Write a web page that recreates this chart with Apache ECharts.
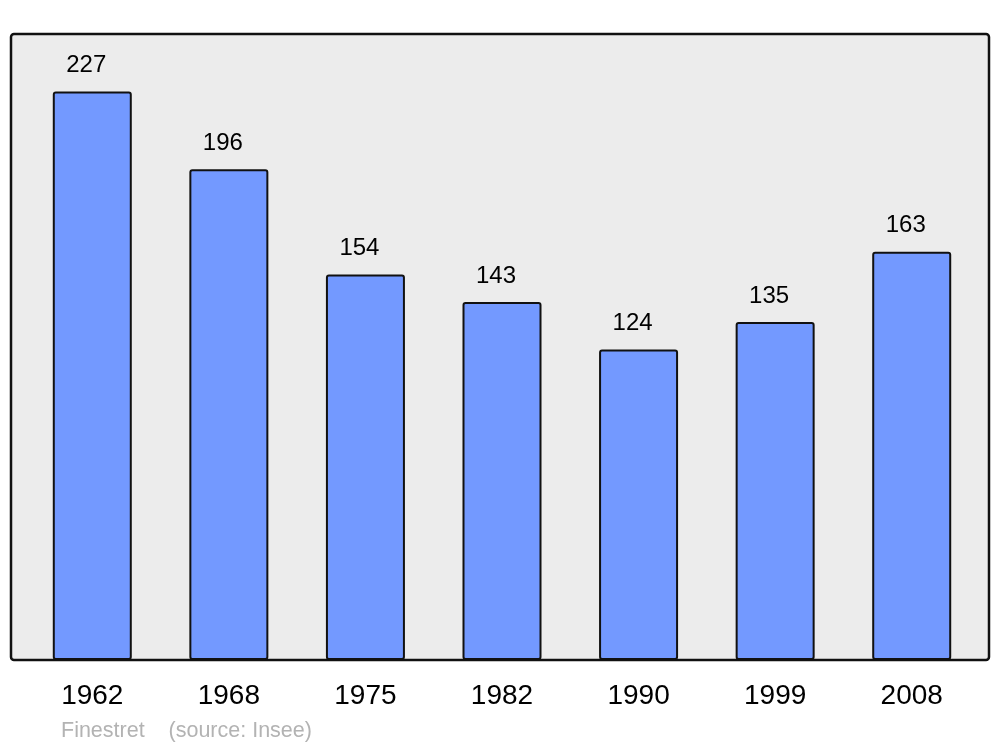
<!DOCTYPE html>
<html>
<head>
<meta charset="utf-8">
<script src="https://cdn.jsdelivr.net/npm/echarts@6/dist/echarts.min.js"></script>
<style>html,body{margin:0;padding:0;background:#fff;}#c{width:1000px;height:747px;}</style>
</head>
<body>
<div id="c"></div>
<script>
const years = ['1962', '1968', '1975', '1982', '1990', '1999', '2008'];
const population = [227, 196, 154, 143, 124, 135, 163];
const footer = 'Finestret    (source: Insee)';

const chart = echarts.init(document.getElementById('c'), null, {renderer: 'canvas'});
chart.setOption({
  animation: false,
  backgroundColor: '#ffffff',
  textStyle: {fontFamily: 'Liberation Sans, Arial, sans-serif'},
  grid: {left: 24, right: 20, top: 34, bottom: 87},
  graphic: [
    {type: 'rect', z: -10, shape: {x: 11, y: 34, width: 978, height: 626, r: 3},
     style: {fill: '#ececec', stroke: '#111111', lineWidth: 2.5}},
    {type: 'text', z: 10, left: 61, top: 720,
     style: {text: footer, fill: '#b3b3b3', font: '21.5px "Liberation Sans", Arial, sans-serif'}}
  ],
  xAxis: {
    type: 'category', data: years,
    axisLine: {show: false}, axisTick: {show: false},
    axisLabel: {color: '#000', fontSize: 28, margin: 22, fontFamily: 'Liberation Sans'}
  },
  yAxis: {type: 'value', min: 0, max: 250, show: false, splitLine: {show: false}},
  series: [{
    type: 'bar', data: population, barWidth: 79, z: 2,
    itemStyle: {color: '#7399ff', borderColor: '#111111', borderWidth: 2, borderRadius: 2},
    label: {show: true, position: 'top', distance: 14, offset: [-6, 0], color: '#000', fontSize: 24, fontFamily: 'Liberation Sans'}
  }]
});
</script>
</body>
</html>
